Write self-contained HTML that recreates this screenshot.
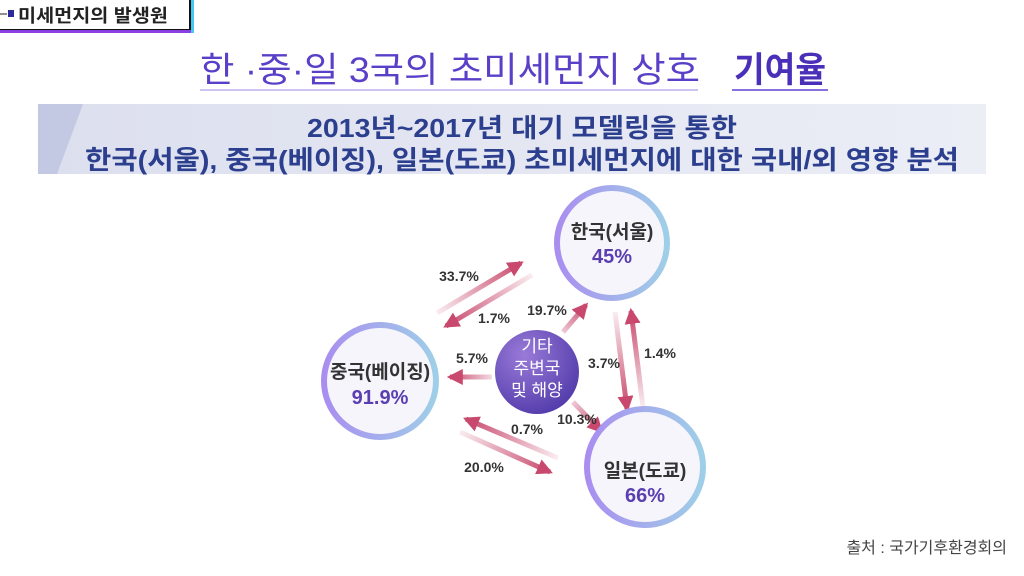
<!DOCTYPE html>
<html><head><meta charset="utf-8"><style>
html,body{margin:0;padding:0;background:#fff;width:1024px;height:576px;overflow:hidden}
svg{display:block;font-family:"Liberation Sans","Noto Sans CJK KR",sans-serif}
</style></head><body>
<svg width="1024" height="576" viewBox="0 0 1024 576">
<defs>
<linearGradient id="ring" x1="0" y1="0" x2="1" y2="0"><stop offset="0" stop-color="#a98ef0"/><stop offset="1" stop-color="#9fcfe8"/></linearGradient>
<linearGradient id="ban" x1="0" y1="0" x2="1" y2="0"><stop offset="0" stop-color="#dcdfee"/><stop offset="1" stop-color="#eceef6"/></linearGradient>
<radialGradient id="ctr" cx="0.35" cy="0.3" r="0.8"><stop offset="0" stop-color="#9a7ad8"/><stop offset="1" stop-color="#4e38a8"/></radialGradient>
<marker id="ah" viewBox="0 0 10 10" refX="8" refY="5" markerWidth="3.2" markerHeight="3.2" orient="auto"><path d="M0,0 L10,5 L0,10 z" fill="#c8496d"/></marker>
<linearGradient id="g1" gradientUnits="userSpaceOnUse" x1="437" y1="313" x2="521" y2="263"><stop offset="0" stop-color="#c8496d" stop-opacity="0.1"/><stop offset="1" stop-color="#c8496d"/></linearGradient>
<linearGradient id="g2" gradientUnits="userSpaceOnUse" x1="532" y1="275" x2="446" y2="326"><stop offset="0" stop-color="#c8496d" stop-opacity="0.1"/><stop offset="1" stop-color="#c8496d"/></linearGradient>
<linearGradient id="g3" gradientUnits="userSpaceOnUse" x1="563" y1="332" x2="586" y2="305"><stop offset="0" stop-color="#c8496d" stop-opacity="0.3"/><stop offset="1" stop-color="#c8496d"/></linearGradient>
<linearGradient id="g4" gradientUnits="userSpaceOnUse" x1="492" y1="377" x2="450" y2="377"><stop offset="0" stop-color="#c8496d" stop-opacity="0.2"/><stop offset="1" stop-color="#c8496d"/></linearGradient>
<linearGradient id="g5" gradientUnits="userSpaceOnUse" x1="573" y1="402" x2="601" y2="431"><stop offset="0" stop-color="#c8496d" stop-opacity="0.3"/><stop offset="1" stop-color="#c8496d"/></linearGradient>
<linearGradient id="g6" gradientUnits="userSpaceOnUse" x1="615" y1="312" x2="627" y2="409"><stop offset="0" stop-color="#c8496d" stop-opacity="0.1"/><stop offset="1" stop-color="#c8496d"/></linearGradient>
<linearGradient id="g7" gradientUnits="userSpaceOnUse" x1="643" y1="407" x2="631" y2="311"><stop offset="0" stop-color="#c8496d" stop-opacity="0.1"/><stop offset="1" stop-color="#c8496d"/></linearGradient>
<linearGradient id="g8" gradientUnits="userSpaceOnUse" x1="558" y1="458" x2="466" y2="419"><stop offset="0" stop-color="#c8496d" stop-opacity="0.1"/><stop offset="1" stop-color="#c8496d"/></linearGradient>
<linearGradient id="g9" gradientUnits="userSpaceOnUse" x1="460" y1="432" x2="550" y2="472"><stop offset="0" stop-color="#c8496d" stop-opacity="0.1"/><stop offset="1" stop-color="#c8496d"/></linearGradient>
</defs>
<!-- top tab -->
<rect x="-4" y="-4" width="194" height="34" fill="#fff" stroke="#111" stroke-width="2"/>
<rect x="0" y="30" width="192" height="3" fill="#8a3fe0"/>
<rect x="191" y="0" width="3" height="33" fill="#45c8f0"/>
<line x1="0" y1="14" x2="7" y2="14" stroke="#222" stroke-width="1"/>
<rect x="8" y="10" width="6" height="7" fill="#2a2a9a"/>
<text x="18" y="22" font-size="18" font-weight="bold" fill="#222" textLength="150" lengthAdjust="spacingAndGlyphs">미세먼지의 발생원</text>
<!-- title -->
<text x="200" y="82" font-size="35" fill="#5a3fc8" textLength="500" lengthAdjust="spacingAndGlyphs">한 ·중·일 3국의 초미세먼지 상호</text>
<text x="734" y="82" font-size="35" font-weight="bold" fill="#4a2fb8" textLength="92" lengthAdjust="spacingAndGlyphs">기여율</text>
<rect x="200" y="89" width="498" height="2" fill="#cfc3f2"/>
<rect x="732" y="89" width="96" height="2" fill="#8a6fe0"/>
<!-- banner -->
<rect x="38" y="104" width="948" height="70" fill="url(#ban)"/>
<polygon points="38,104 83,104 57,174 38,174" fill="#c3c9e2"/>
<text x="522" y="137" font-size="26" font-weight="bold" fill="#2c3f8f" text-anchor="middle" textLength="430" lengthAdjust="spacingAndGlyphs">2013년~2017년 대기 모델링을 통한</text>
<text x="522" y="169" font-size="26" font-weight="bold" fill="#2c3f8f" text-anchor="middle" textLength="874" lengthAdjust="spacingAndGlyphs">한국(서울), 중국(베이징), 일본(도쿄) 초미세먼지에 대한 국내/외 영향 분석</text>
<!-- arrows -->
<g stroke-width="5" marker-end="url(#ah)">
<line x1="437" y1="313" x2="521" y2="263" stroke="url(#g1)"/>
<line x1="532" y1="275" x2="446" y2="326" stroke="url(#g2)"/>
<line x1="563" y1="332" x2="586" y2="305" stroke="url(#g3)"/>
<line x1="492" y1="377" x2="450" y2="377" stroke="url(#g4)"/>
<line x1="573" y1="402" x2="601" y2="431" stroke="url(#g5)"/>
<line x1="615" y1="312" x2="627" y2="409" stroke="url(#g6)"/>
<line x1="643" y1="407" x2="631" y2="311" stroke="url(#g7)"/>
<line x1="558" y1="458" x2="466" y2="419" stroke="url(#g8)"/>
<line x1="460" y1="432" x2="550" y2="472" stroke="url(#g9)"/>
</g>
<!-- circles -->
<circle cx="612" cy="243" r="55" fill="#f6f5fc" stroke="url(#ring)" stroke-width="6"/>
<circle cx="380" cy="381" r="56" fill="#f6f5fc" stroke="url(#ring)" stroke-width="6"/>
<circle cx="645" cy="467" r="58" fill="#f6f5fc" stroke="url(#ring)" stroke-width="6"/>
<circle cx="537" cy="372" r="42" fill="url(#ctr)"/>
<g font-weight="bold" text-anchor="middle">
<text x="612" y="238" font-size="19" fill="#333">한국(서울)</text>
<text x="612" y="263" font-size="20" fill="#5b3fb0">45%</text>
<text x="380" y="378" font-size="19" fill="#333">중국(베이징)</text>
<text x="380" y="404" font-size="20" fill="#5b3fb0">91.9%</text>
<text x="645" y="477" font-size="19" fill="#333">일본(도쿄)</text>
<text x="645" y="502" font-size="20" fill="#5b3fb0">66%</text>
</g>
<g font-size="17" fill="#fff" text-anchor="middle">
<text x="537" y="352">기타</text>
<text x="537" y="374">주변국</text>
<text x="537" y="396">및 해양</text>
</g>
<g font-size="14" font-weight="bold" fill="#333" text-anchor="middle">
<text x="459" y="281">33.7%</text>
<text x="494" y="323">1.7%</text>
<text x="547" y="315">19.7%</text>
<text x="472" y="363">5.7%</text>
<text x="604" y="368">3.7%</text>
<text x="660" y="358">1.4%</text>
<text x="577" y="424">10.3%</text>
<text x="527" y="434">0.7%</text>
<text x="484" y="472">20.0%</text>
</g>
<text x="1007" y="553" font-size="16" fill="#444" text-anchor="end">출처 : 국가기후환경회의</text>
</svg>
</body></html>
